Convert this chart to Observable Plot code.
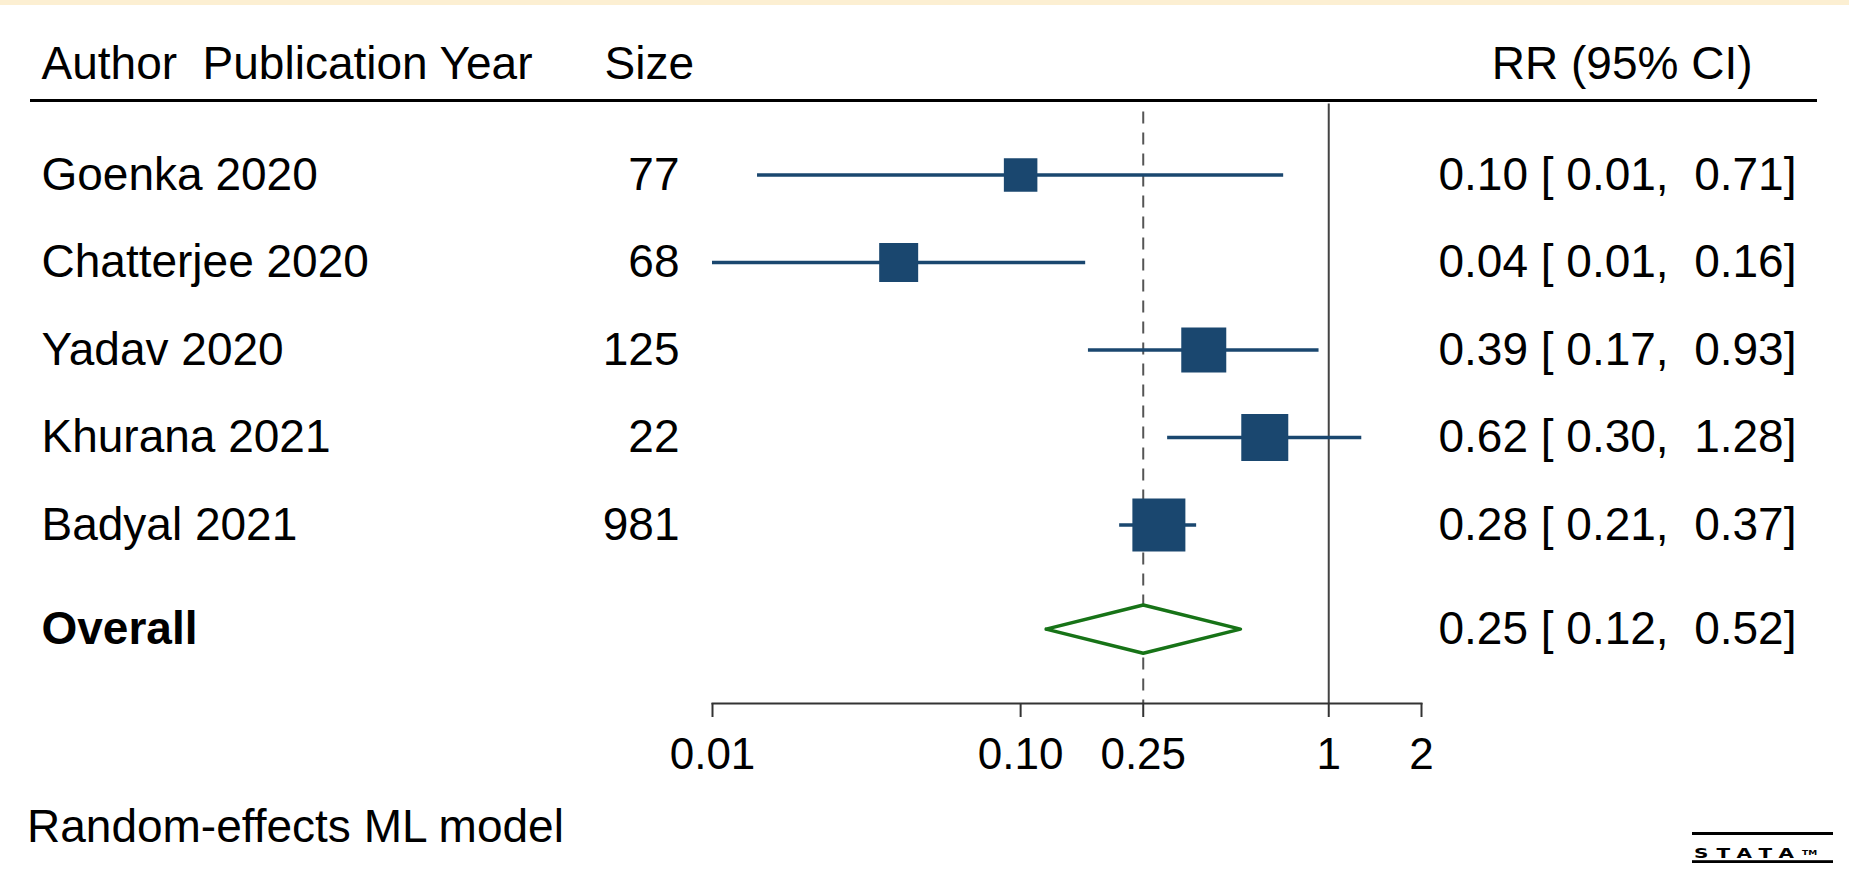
<!DOCTYPE html>
<html><head><meta charset="utf-8">
<script src="https://cdn.jsdelivr.net/npm/d3@7"></script>
<script src="https://cdn.jsdelivr.net/npm/@observablehq/plot@0.6"></script>
<style>
body{margin:0;background:#fff;}
#wrap{position:relative;width:1849px;height:872px;overflow:hidden;font-family:"Liberation Sans",Arial,sans-serif;color:#000;}
#band{position:absolute;left:0;top:0;width:1849px;height:5px;background:#fcefd2;}
#chart{position:absolute;left:0;top:0;}
#chart svg text{white-space:pre;}
#note{position:absolute;left:27px;top:803px;font-size:46px;line-height:46px;white-space:pre;}
#logo{position:absolute;left:1692px;top:832px;width:141px;}
#logo .bar{height:3px;background:#000;}
#logo .txt{margin-top:4px;height:20px;line-height:20px;font-family:"DejaVu Sans",sans-serif;font-weight:900;font-size:20px;letter-spacing:8px;white-space:nowrap;text-align:left;padding-left:2px;border-bottom:4px solid #000;transform:scaleY(0.7);transform-origin:bottom;}
#logo .tm{font-size:9px;letter-spacing:0;vertical-align:top;}
</style></head>
<body>
<div id="wrap"><div id="chart"></div><div id="band"></div><div id="note"></div><div id="logo"><div class="bar"></div><div class="txt">STATA<span class="tm">TM</span></div></div></div>
<script>
// ---- data ----
const studies = ["Goenka 2020", "Chatterjee 2020", "Yadav 2020", "Khurana 2021", "Badyal 2021"];
const sizes = [77, 68, 125, 22, 981];
const rr = [0.100, 0.0402, 0.393, 0.620, 0.281];
const lower = [0.0140, 0.0100, 0.166, 0.300, 0.2096];
const upper = [0.714, 0.1626, 0.93, 1.28, 0.3726];
const weights = [11.6, 15.7, 20.9, 22.8, 29.0];
const overallLabel = "Overall";
const overallRR = 0.25;
const overallLower = 0.121;
const overallUpper = 0.517;
const headers = ["Author  Publication Year", "Size", "RR (95% CI)"];
const footnote = "Random-effects ML model";
const tickValues = [0.01, 0.10, 0.25, 1, 2];
const tickLabels = ["0.01", "0.10", "0.25", "1", "2"];

document.getElementById("note").textContent = footnote;

const fmt = v => v.toFixed(2);
const ciText = (a, l, h) => `${fmt(a)} [ ${fmt(l)},  ${fmt(h)}]`;

const rows = studies.map((s, i) => ({
  study: s, size: String(sizes[i]), rr: rr[i], lo: lower[i], hi: upper[i], w: weights[i], pos: i,
  ci: ciText(rr[i], lower[i], upper[i])
}));
const overallPos = studies.length + 0.19;
const overall = [{label: overallLabel, pos: overallPos, ci: ciText(overallRR, overallLower, overallUpper)}];
const dh = 0.275;
const diamond = [
  {x: overallLower, y: overallPos}, {x: overallRR, y: overallPos - dh},
  {x: overallUpper, y: overallPos}, {x: overallRR, y: overallPos + dh},
  {x: overallLower, y: overallPos}
];

const W = 1849, ML = 712, MR = 428;
const navy = "#1a476f";
const font = "'Liberation Sans', Arial, sans-serif";

const chart = Plot.plot({
  width: W, height: 790,
  marginLeft: ML, marginRight: MR, marginTop: 0, marginBottom: 87,
  style: {fontFamily: font, fontSize: "46px", color: "#000", background: "transparent", overflow: "visible"},
  x: {type: "log", domain: [0.01, 2], axis: null},
  y: {domain: [-1.994, 6.04], reverse: true, axis: null},
  r: {type: "sqrt", domain: [0, 29.0], range: [0, 53 / Math.sqrt(Math.PI)]},
  marks: [
    // header
    Plot.text([headers[0]], {frameAnchor: "top-left", dx: 41 - ML, dy: 64, lineAnchor: "middle", textAnchor: "start", fontSize: 46}),
    Plot.text([headers[1]], {frameAnchor: "top-left", dx: 604 - ML, dy: 64, lineAnchor: "middle", textAnchor: "start", fontSize: 46}),
    Plot.text([headers[2]], {frameAnchor: "top-right", dx: 1752 - (W - MR), dy: 64, lineAnchor: "middle", textAnchor: "end", fontSize: 46}),
    Plot.ruleY([-0.851], {stroke: "#000", strokeWidth: 3, insetLeft: -(ML - 30), insetRight: -(1817 - (W - MR))}),
    // reference lines
    Plot.ruleX([1], {y1: -0.81, y2: 6.04, stroke: "#444", strokeWidth: 2}),
    Plot.ruleX([overallRR], {y1: -0.72, y2: 6.04, stroke: "#555", strokeWidth: 2, strokeDasharray: "12,9"}),
    // CIs and boxes
    Plot.ruleY(rows, {y: "pos", x1: "lo", x2: "hi", stroke: navy, strokeWidth: 3.5}),
    Plot.dot(rows, {x: "rr", y: "pos", r: "w", symbol: "square", fill: navy, stroke: "none"}),
    // overall diamond
    Plot.line(diamond, {x: "x", y: "y", stroke: "#177317", strokeWidth: 3.5, fill: "white", curve: "linear"}),
    // table text
    Plot.text(rows, {y: "pos", text: "study", frameAnchor: "left", dx: 41 - ML, textAnchor: "start", fontSize: 46}),
    Plot.text(rows, {y: "pos", text: "size", frameAnchor: "left", dx: 679 - ML, textAnchor: "end", fontSize: 46}),
    Plot.text(rows, {y: "pos", text: "ci", frameAnchor: "right", dx: 1796 - (W - MR), textAnchor: "end", fontSize: 46}),
    Plot.text(overall, {y: "pos", text: "label", frameAnchor: "left", dx: 41 - ML, textAnchor: "start", fontSize: 46, fontWeight: "bold"}),
    Plot.text(overall, {y: "pos", text: "ci", frameAnchor: "right", dx: 1796 - (W - MR), textAnchor: "end", fontSize: 46}),
    // x axis
    Plot.frame({anchor: "bottom", stroke: "#333", strokeWidth: 2}),
    Plot.axisX({ticks: tickValues, tickFormat: d => tickLabels[tickValues.indexOf(d)], tickSize: 14, tickPadding: 20,
      fontSize: 44, stroke: "#333", strokeWidth: 2, fill: "#000", label: null})
  ]
});
document.getElementById("chart").appendChild(chart);
</script>
</body></html>
